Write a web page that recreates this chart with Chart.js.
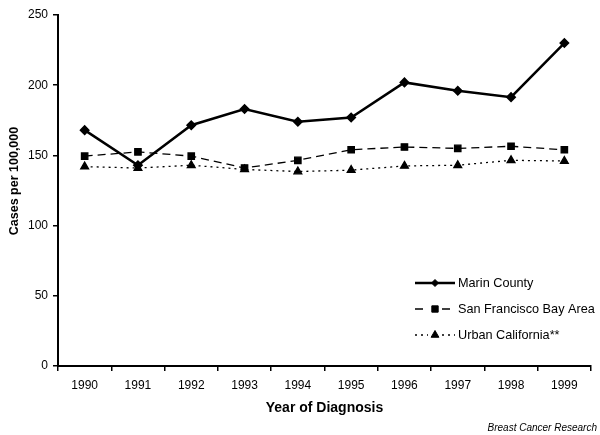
<!DOCTYPE html>
<html>
<head>
<meta charset="utf-8">
<script src="https://cdn.jsdelivr.net/npm/chart.js@4.4.0/dist/chart.umd.min.js"></script>
<style>
  html, body { margin: 0; padding: 0; background: #fff; }
  #wrap { width: 600px; height: 435px; position: relative; }
</style>
</head>
<body>
<div id="wrap"><canvas id="chart" width="600" height="435"></canvas></div>
<script>
// Data
const years = ['1990', '1991', '1992', '1993', '1994', '1995', '1996', '1997', '1998', '1999'];
const marinCounty = [168, 143, 171.5, 183, 174, 177, 202, 196, 191.5, 230];
const sfBayArea = [149.5, 152.5, 149.5, 141, 146.5, 154, 156, 155, 156.5, 154];
const urbanCalifornia = [142, 141, 143, 140, 138.5, 139.5, 142.5, 143, 146.5, 146];
const yTicks = [0, 50, 100, 150, 200, 250];

const FONT = 'Arial, "Liberation Sans", sans-serif';

// Legend drawn inside the plot area, lower right, plus y title and credit
const legendPlugin = {
    id: 'insideLegend',
    afterDraw(chart) {
        const ctx = chart.ctx;
        const x0 = 415, x1 = 455, xt = 458;
        const rows = [283, 309, 335];
        chart.data.datasets.forEach((ds, i) => {
            const y = rows[i];
            const xm = (x0 + x1) / 2;
            ctx.save();
            ctx.strokeStyle = '#000';
            ctx.lineWidth = ds.borderWidth;
            if (ds.borderDash) {
                // dashes either side of the marker
                ctx.setLineDash(ds.borderDash);
                ctx.beginPath();
                ctx.moveTo(x0, y);
                ctx.lineTo(xm - 7, y);
                ctx.moveTo(xm + 7, y);
                ctx.lineTo(x1, y);
                ctx.stroke();
            } else {
                ctx.beginPath();
                ctx.moveTo(x0, y);
                ctx.lineTo(x1, y);
                ctx.stroke();
            }
            ctx.restore();
            Chart.helpers.drawPoint(ctx, {
                pointStyle: ds.pointStyle,
                radius: ds.pointRadius,
                rotation: 0,
                borderWidth: 1
            }, xm, y);
            ctx.save();
            ctx.fillStyle = '#000';
            ctx.font = '12.7px ' + FONT;
            ctx.textBaseline = 'middle';
            ctx.textAlign = 'left';
            ctx.fillText(ds.label, xt, y);
            ctx.restore();
        });
        // y axis title
        ctx.save();
        ctx.translate(15, 181);
        ctx.rotate(-Math.PI / 2);
        ctx.fillStyle = '#000';
        ctx.font = 'bold 12.5px ' + FONT;
        ctx.textAlign = 'center';
        ctx.textBaseline = 'middle';
        ctx.fillText('Cases per 100,000', 0, 0);
        ctx.restore();
        // source credit
        ctx.save();
        ctx.fillStyle = '#000';
        ctx.font = 'italic 10px ' + FONT;
        ctx.textAlign = 'right';
        ctx.textBaseline = 'alphabetic';
        ctx.fillText('Breast Cancer Research', 597, 431);
        ctx.restore();
    }
};

const ctx = document.getElementById('chart').getContext('2d');
Chart.defaults.font.family = FONT;
Chart.defaults.color = '#000';

new Chart(ctx, {
    type: 'line',
    data: {
        labels: years,
        datasets: [
            {
                label: 'Marin County',
                data: marinCounty,
                borderColor: '#000',
                backgroundColor: '#000',
                borderWidth: 2.5,
                pointStyle: 'rectRot',
                pointRadius: 3.5,
                fill: false,
                tension: 0
            },
            {
                label: 'San Francisco Bay Area',
                data: sfBayArea,
                borderColor: '#000',
                backgroundColor: '#000',
                borderWidth: 1.3,
                borderDash: [8, 5],
                pointStyle: 'rect',
                pointRadius: 4.5,
                fill: false,
                tension: 0
            },
            {
                label: 'Urban California**',
                data: urbanCalifornia,
                borderColor: '#000',
                backgroundColor: '#000',
                borderWidth: 1.3,
                borderDash: [2, 4],
                pointStyle: 'triangle',
                pointRadius: 4.5,
                fill: false,
                tension: 0
            }
        ]
    },
    options: {
        responsive: false,
        animation: false,
        layout: { padding: { left: 0, right: 9, top: 15, bottom: 14 } },
        plugins: {
            legend: { display: false },
            tooltip: { enabled: false }
        },
        scales: {
            x: {
                offset: true,
                grid: {
                    display: true,
                    offset: true,
                    drawOnChartArea: false,
                    drawTicks: true,
                    tickLength: 5,
                    color: '#000',
                    lineWidth: 1.5
                },
                border: { display: true, color: '#000', width: 2 },
                ticks: { font: { size: 12 }, color: '#000', padding: 7, maxRotation: 0 },
                title: {
                    display: true,
                    text: 'Year of Diagnosis',
                    font: { size: 14, weight: 'bold' },
                    color: '#000',
                    padding: { top: 7 }
                },
                afterFit(scale) { scale.height = 55; }
            },
            y: {
                min: 0,
                max: 250,
                afterBuildTicks(scale) { scale.ticks = yTicks.map(v => ({ value: v })); },
                grid: {
                    display: true,
                    drawOnChartArea: false,
                    drawTicks: true,
                    tickLength: 5,
                    color: '#000',
                    lineWidth: 1.5
                },
                border: { display: true, color: '#000', width: 2 },
                ticks: { font: { size: 12 }, color: '#000', padding: 5 },
                title: { display: false },
                afterFit(scale) { scale.width = 58; }
            }
        }
    },
    plugins: [legendPlugin]
});
</script>
</body>
</html>
